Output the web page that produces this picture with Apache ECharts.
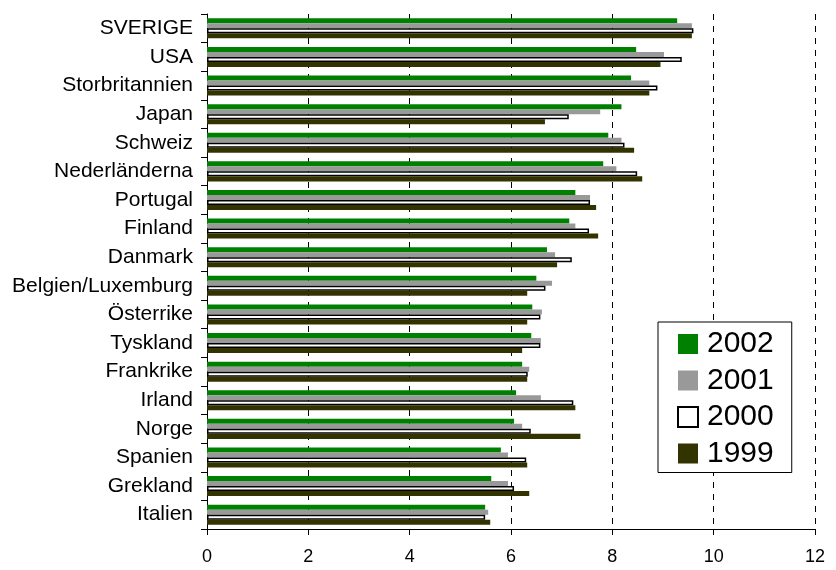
<!DOCTYPE html>
<html><head><meta charset="utf-8">
<script src="https://cdn.jsdelivr.net/npm/echarts@6/dist/echarts.min.js"></script>
<style>html,body{margin:0;padding:0;background:#fff}#c{width:836px;height:570px}</style>
</head><body><div id="c"></div>
<script>
const categories = ["SVERIGE","USA","Storbritannien","Japan","Schweiz","Nederländerna","Portugal","Finland","Danmark","Belgien/Luxemburg","Österrike","Tyskland","Frankrike","Irland","Norge","Spanien","Grekland","Italien"];
const v2002 = [9.28,8.47,8.37,8.18,7.92,7.82,7.27,7.15,6.71,6.50,6.42,6.40,6.22,6.10,6.06,5.80,5.61,5.49];
const v2001 = [9.57,9.02,8.73,7.76,8.18,8.08,7.56,7.27,6.87,6.81,6.61,6.59,6.36,6.59,6.22,5.94,5.94,5.55];
const v2000 = [9.60,9.37,8.89,7.14,8.24,8.49,7.56,7.54,7.20,6.68,6.58,6.58,6.33,7.23,6.39,6.30,6.06,5.49];
const v1999 = [9.57,8.95,8.73,6.67,8.43,8.59,7.68,7.72,6.91,6.32,6.32,6.22,6.32,7.27,7.37,6.32,6.36,5.59];
const seriesNames = ["2002","2001","2000","1999"];
const xTicks = [0,2,4,6,8,10,12];

const font = "Liberation Sans, Arial, sans-serif";
const chart = echarts.init(document.getElementById('c'), null, {renderer:'canvas'});
function bar(name, data, style){
  return {name, type:'bar', data, barGap:'0%', barCategoryGap:'30%', itemStyle:style, animation:false};
}
chart.setOption({
  animation:false,
  backgroundColor:'#fff',
  grid:{left:207, right:21, top:14, bottom:41, containLabel:false},
  legend:{
    orient:'vertical', left:658, top:322,
    backgroundColor:'#fff', borderColor:'#000', borderWidth:1,
    padding:[7,18,4,19], itemGap:6.5, itemWidth:20, itemHeight:20,
    textStyle:{fontFamily:font, fontSize:30, lineHeight:30, color:'#000', padding:[0,0,0,4]},
    data:seriesNames.map(n=>({name:n, icon:'rect'}))
  },
  xAxis:{
    type:'value', min:0, max:12, interval:2,
    axisLine:{show:true, lineStyle:{color:'#000', width:1}},
    axisTick:{show:true, length:6, lineStyle:{color:'#000'}},
    axisLabel:{fontFamily:font, fontSize:18, color:'#000', margin:19, formatter:v=>xTicks.includes(v)?String(v):''},
    splitLine:{show:true, lineStyle:{color:'#000', type:[6,6], width:1}}
  },
  yAxis:{
    type:'category', data:categories, inverse:true,
    axisLine:{show:true, lineStyle:{color:'#000', width:1}},
    axisTick:{show:true, length:6, inside:false, lineStyle:{color:'#000'}},
    axisLabel:{fontFamily:font, fontSize:21, color:'#000', margin:14},
    splitLine:{show:false}
  },
  series:[
    bar("2002", v2002, {color:'#008000'}),
    bar("2001", v2001, {color:'#999999'}),
    bar("2000", v2000, {color:'#ffffff', borderColor:'#000', borderWidth:1.5}),
    bar("1999", v1999, {color:'#333300'})
  ]
});
</script></body></html>
